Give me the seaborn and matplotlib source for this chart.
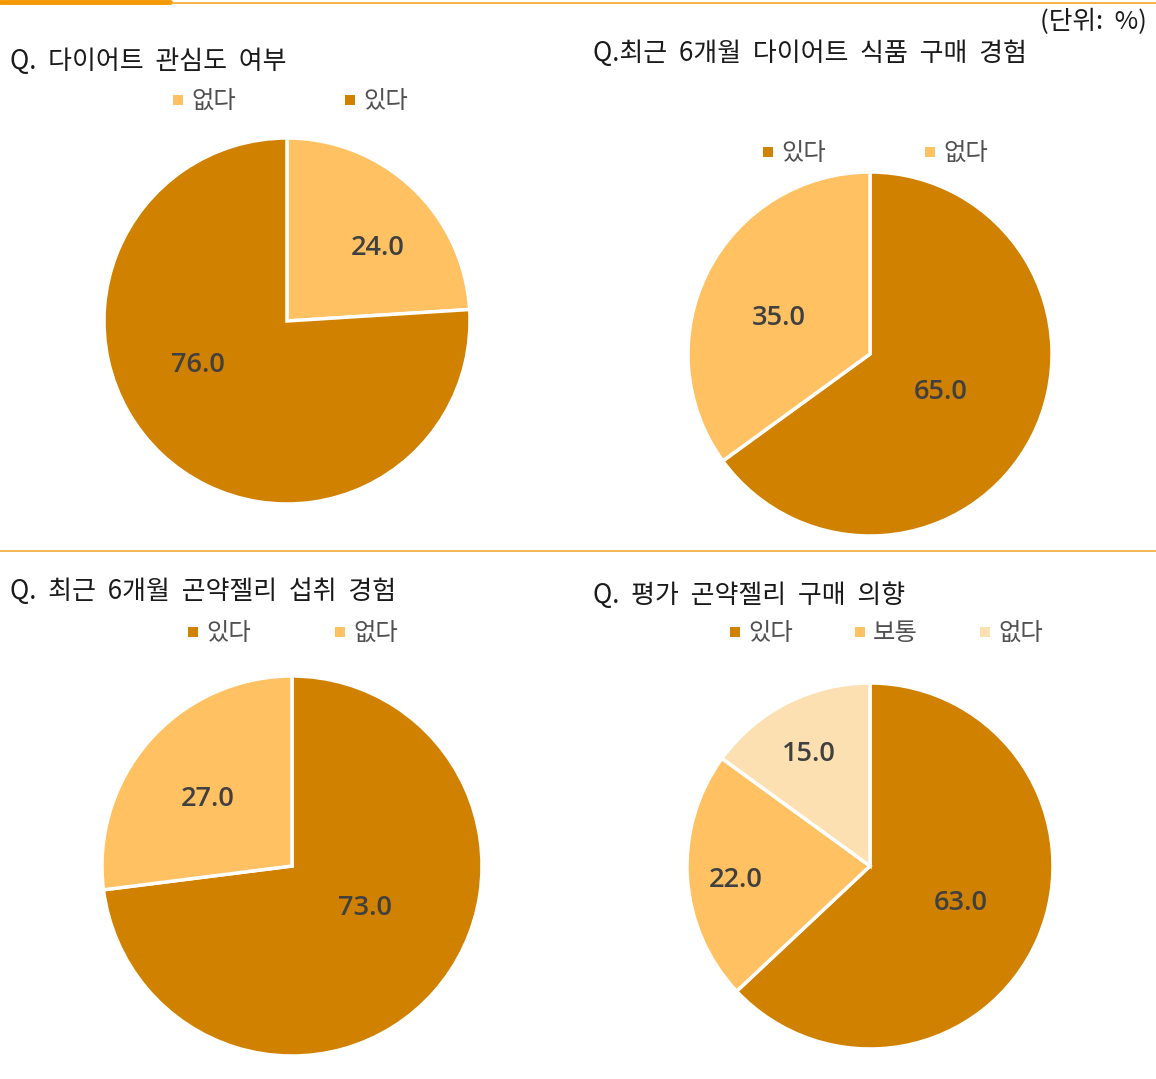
import matplotlib
matplotlib.use("Agg")
import matplotlib.pyplot as plt
import seaborn as sns
from matplotlib.patches import Rectangle
from matplotlib.lines import Line2D

sns.set_theme(style="white")
plt.rcParams['font.family'] = ['Noto Sans CJK KR', 'DejaVu Sans']

# Survey results (%)
titles = [
    "Q.  다이어트  관심도  여부",
    "Q.최근  6개월  다이어트  식품  구매  경험",
    "Q.  최근  6개월  곤약젤리  섭취  경험",
    "Q.  평가  곤약젤리  구매  의향",
]
labels_1 = ["없다", "있다"]
values_1 = [24.0, 76.0]
labels_2 = ["있다", "없다"]
values_2 = [65.0, 35.0]
labels_3 = ["있다", "없다"]
values_3 = [73.0, 27.0]
labels_4 = ["있다", "보통", "없다"]
values_4 = [63.0, 22.0, 15.0]
unit_text = "(단위:  %)"

pal = sns.color_palette(["#D08100", "#FFC162", "#FDE0B2"])
DARK, MID, LIGHT = pal[0], pal[1], pal[2]

W, H = 1156, 1079
fig = plt.figure(figsize=(W / 100, H / 100), dpi=100)


def fx(x):
    return x / W


def fy(y):
    return 1 - y / H


# Layout: pie centre/radius (px), value-label offsets (in radii), legend spots
charts = [
    dict(labels=labels_1, values=values_1, colors=[MID, DARK],
         c=(287, 321), r=183,
         lab_xy=[(0.497, 0.399), (-0.486, -0.240)],
         title_xy=(10, 62), legend_y=101, legend_x=[178, 350]),
    dict(labels=labels_2, values=values_2, colors=[DARK, MID],
         c=(870, 354), r=182,
         lab_xy=[(0.390, -0.209), (-0.500, 0.198)],
         title_xy=(593, 54), legend_y=153, legend_x=[768, 930]),
    dict(labels=labels_3, values=values_3, colors=[DARK, MID],
         c=(292, 866), r=190,
         lab_xy=[(0.384, -0.221), (-0.442, 0.353)],
         title_xy=(10, 592), legend_y=633, legend_x=[193, 340]),
    dict(labels=labels_4, values=values_4, colors=[DARK, MID, LIGHT],
         c=(870, 866), r=183,
         lab_xy=[(0.497, -0.202), (-0.732, -0.077), (-0.333, 0.612)],
         title_xy=(593, 595), legend_y=633, legend_x=[735, 860, 985]),
]

for ch, title in zip(charts, titles):
    cx, cy = ch["c"]
    r = ch["r"]
    ax = fig.add_axes([fx(cx - r), fy(cy + r), 2 * r / W, 2 * r / H])
    wedges, _ = ax.pie(ch["values"], colors=ch["colors"], startangle=90,
                       counterclock=False, radius=1.0,
                       wedgeprops=dict(edgecolor="white", linewidth=2.5))
    ax.set_xlim(-1.0, 1.0)
    ax.set_ylim(-1.0, 1.0)
    ax.set_aspect("equal")
    ax.axis("off")
    for v, (lx, ly) in zip(ch["values"], ch["lab_xy"]):
        ax.text(lx, ly, f"{v:.1f}", ha="center", va="center",
                fontsize=19.5, fontweight="semibold", color="#404040",
                family=["Open Sans", "DejaVu Sans"])

    tx, ty = ch["title_xy"]
    fig.text(fx(tx), fy(ty), title, ha="left", va="center",
             fontsize=18.7, color="#1a1a1a")

    for lx, lab, col in zip(ch["legend_x"], ch["labels"], ch["colors"]):
        fig.add_artist(Rectangle((fx(lx - 5), fy(ch["legend_y"] + 4)),
                                 10 / W, 10 / H, transform=fig.transFigure,
                                 facecolor=col, edgecolor="none"))
        fig.text(fx(lx + 13), fy(ch["legend_y"]), lab, ha="left",
                 va="center", fontsize=17.5, fontweight="medium",
                 color="#505050")

fig.text(fx(1147), fy(22), unit_text, ha="right", va="center",
         fontsize=18.5, color="#1a1a1a")

# Header rule and section divider
fig.add_artist(Line2D([0, fx(170)], [fy(2), fy(2)], transform=fig.transFigure,
                      color="#F39800", linewidth=3.5))
fig.add_artist(Line2D([fx(170), 1], [fy(3), fy(3)], transform=fig.transFigure,
                      color="#F5A623", linewidth=1.2))
fig.add_artist(Line2D([0, 1], [fy(551), fy(551)], transform=fig.transFigure,
                      color="#F5B04A", linewidth=1.3))

fig.savefig("out.png", dpi=100)
